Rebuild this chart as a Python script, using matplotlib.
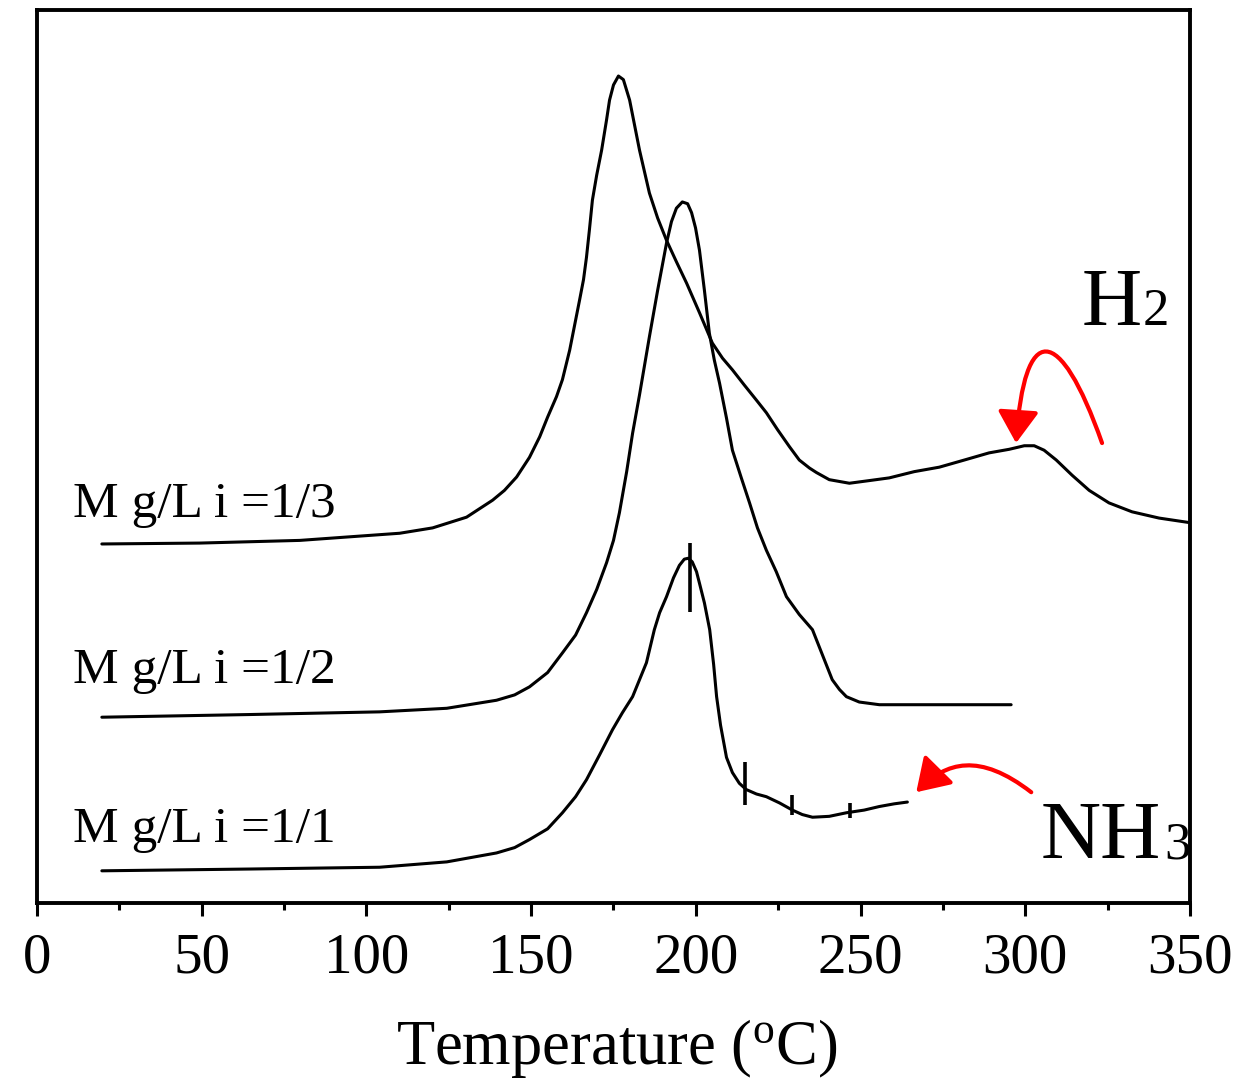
import numpy as np
import matplotlib
matplotlib.use("Agg")
import matplotlib.pyplot as plt
from matplotlib.path import Path
from matplotlib.patches import FancyArrowPatch

plt.rcParams["font.family"] = "Liberation Serif"
plt.rcParams["mathtext.fontset"] = "custom"
plt.rcParams["mathtext.rm"] = "Liberation Serif"

# --- data (temperature in C, signal in arbitrary units) ---
temp_13 = [19.7, 49.4, 79.8, 94.9, 110.1, 120.1, 130.4, 138.3, 141.9, 145.6, 149.5,
           152.6, 155.0, 157.7, 159.5, 161.7, 163.2, 164.7, 165.9, 166.8, 167.7,
           168.6, 169.9, 171.4, 172.9, 173.8, 175.0, 176.5, 178.0, 179.9, 181.4,
           182.9, 184.4, 185.9, 188.4, 191.1, 194.1, 197.2, 201.1, 205.0, 208.1,
           211.1, 214.7, 218.4, 221.4, 224.8, 228.4, 231.4, 234.5, 236.6, 240.5,
           246.6, 252.7, 258.7, 266.3, 273.9, 281.5, 289.0, 295.1, 299.7, 302.7,
           305.7, 309.4, 314.2, 319.4, 325.4, 332.4, 340.6, 349.7]
sig_13 = [40.2, 40.3, 40.6, 41.0, 41.4, 42.0, 43.2, 45.1, 46.2, 47.7, 49.9,
          52.2, 54.4, 56.7, 58.6, 61.9, 64.7, 67.5, 69.8, 72.3, 75.4,
          78.7, 81.5, 84.3, 87.7, 89.9, 91.6, 92.6, 92.2, 89.9, 87.1,
          84.3, 81.9, 79.5, 76.7, 74.2, 71.8, 69.4, 66.1, 62.7, 61.0,
          59.7, 58.0, 56.3, 54.9, 53.0, 51.1, 49.6, 48.7, 48.2, 47.4,
          47.0, 47.3, 47.6, 48.3, 48.8, 49.6, 50.4, 50.8, 51.2, 51.2,
          50.7, 49.6, 47.9, 46.2, 44.8, 43.8, 43.1, 42.6]

temp_12 = [19.7, 64.6, 104.0, 124.4, 139.5, 145.0, 149.5, 155.0, 159.5, 163.5,
           166.8, 169.9, 172.9, 175.0, 176.8, 179.0, 180.8, 182.9, 185.9, 188.4,
           191.1, 192.6, 194.1, 195.9, 197.5, 198.7, 199.9, 201.1, 202.6, 204.1,
           205.6, 207.2, 209.3, 211.1, 213.8, 216.3, 218.7, 221.4, 224.4, 227.5,
           231.4, 235.4, 238.4, 241.4, 243.6, 245.7, 249.6, 255.7, 276.9, 295.7]
sig_12 = [20.8, 21.1, 21.4, 21.8, 22.7, 23.3, 24.2, 25.8, 28.0, 30.0,
          32.5, 35.1, 38.1, 40.6, 43.7, 48.3, 52.6, 56.9, 63.4, 68.6,
          73.9, 76.3, 77.8, 78.5, 78.3, 77.3, 75.6, 73.1, 68.6, 63.8,
          60.8, 58.2, 54.3, 50.7, 47.6, 44.8, 42.0, 39.5, 37.1, 34.3,
          32.3, 30.6, 27.8, 25.0, 23.9, 23.1, 22.5, 22.2, 22.2, 22.2]

temp_11 = [19.7, 64.6, 104.0, 124.4, 139.5, 145.0, 149.5, 155.0, 159.5, 163.5,
           166.8, 170.8, 174.7, 177.7, 180.8, 182.9, 185.0, 187.4, 189.0, 191.1,
           193.2, 195.0, 196.5, 197.7, 198.9, 200.2, 201.1, 202.6, 204.2, 205.4,
           206.3, 207.5, 209.3, 211.1, 213.2, 215.3, 218.4, 221.4, 225.4, 229.3,
           232.3, 235.4, 240.5, 245.7, 251.1, 255.7, 260.2, 264.2]
sig_11 = [3.6, 3.8, 4.0, 4.6, 5.6, 6.2, 7.1, 8.3, 10.1, 11.9,
          13.8, 16.6, 19.4, 21.3, 23.1, 25.0, 26.9, 30.6, 32.5, 34.3,
          36.4, 37.8, 38.5, 38.6, 38.2, 37.1, 35.8, 33.6, 30.6, 26.7,
          23.1, 19.9, 16.3, 14.6, 13.4, 12.7, 12.2, 11.9, 11.2, 10.4,
          9.9, 9.6, 9.7, 10.1, 10.4, 10.8, 11.1, 11.3]

# small vertical marks on the 1/1 trace
mark_temp = [198.1, 215.0, 229.3, 246.9]
mark_lo = [32.6, 11.0, 9.9, 9.5]
mark_hi = [40.3, 15.8, 12.1, 11.2]

labels = ["M g/L i =1/3", "M g/L i =1/2", "M g/L i =1/1"]
label_y = [43.2, 24.6, 6.8]

fig = plt.figure(figsize=(12.36, 10.81), dpi=100)
ax = fig.add_axes([0.0299, 0.1647, 0.9329, 0.8261])

for t, s in [(temp_13, sig_13), (temp_12, sig_12), (temp_11, sig_11)]:
    ax.plot(t, s, color="k", lw=2.2, solid_joinstyle="round",
            solid_capstyle="round")
ax.vlines(mark_temp, mark_lo, mark_hi, color="k", lw=2.6)

for lab, y in zip(labels, label_y):
    ax.text(10.9, y, lab, fontsize=37, va="baseline", ha="left")

# gas labels, subscript kept on the baseline like the original
ax.text(317.0, 64.7, "H", fontsize=60, va="baseline", ha="left")
ax.text(335.5, 64.7, "2", fontsize=38, va="baseline", ha="left")
ax.text(304.8, 5.0, "NH", fontsize=60, va="baseline", ha="left")
ax.text(342.1, 5.0, "3", fontsize=38, va="baseline", ha="left")

# red curved arrows
h2_arrow = [(323.3, 51.5), (310.3, 65.1), (299.7, 65.1), (297.2, 51.5)]
nh3_arrow = [(301.8, 12.4), (286.0, 16.9), (276.0, 15.8), (266.9, 12.4)]
codes = [Path.MOVETO, Path.CURVE4, Path.CURVE4, Path.CURVE4]
for verts in [h2_arrow, nh3_arrow]:
    arr = FancyArrowPatch(path=Path(verts, codes),
                          arrowstyle="-|>,head_length=0.7,head_width=0.45",
                          mutation_scale=28, color="red", lw=3)
    ax.add_patch(arr)

ax.set_xlim(0, 350)
ax.set_ylim(0, 100)
ax.set_xticks(np.arange(0, 351, 50))
ax.set_xticks(np.arange(25, 350, 50), minor=True)
ax.set_yticks([])
ax.tick_params(axis="x", which="major", direction="out", length=9.5, width=2.2,
               labelsize=41, pad=12)
ax.tick_params(axis="x", which="minor", direction="out", length=5, width=2.2)
for sp in ax.spines.values():
    sp.set_linewidth(2.8)

fig.text(617 / 1236, (1081 - 1064) / 1081, r"Temperature ($\mathregular{^o}$C)",
         fontsize=45, ha="center", va="baseline")

fig.savefig("out.png", dpi=100)
